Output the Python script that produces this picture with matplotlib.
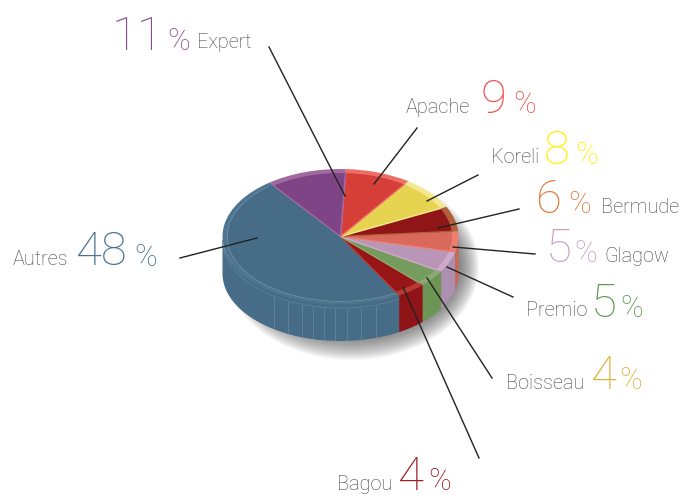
import numpy as np
import matplotlib
matplotlib.use("Agg")
import matplotlib.pyplot as plt
from matplotlib.patches import Ellipse, Polygon
from matplotlib.transforms import Affine2D

names = ["Autres", "Bagou", "Boisseau", "Premio", "Glagow", "Bermude", "Koreli", "Apache", "Expert"]
shares = [48, 4, 4, 5, 5, 6, 8, 9, 11]
main_col = ["#466c87", "#971516", "#759c5c", "#b995b8", "#d9695a", "#8f1516", "#e6d450", "#d63f38", "#7f4485"]
rim_col = ["#4e7590", "#b83a30", "#8aaa72", "#cfa9c8", "#ec7f70", "#b0603a", "#f3e88e", "#ee6e66", "#a06aa0"]
wall_col = ["#466c87", "#8f1418", "#6d9555", "#ad8fb0", "#cf6650", "#b85a45", "#e6d450", "#d63f38", "#7f4485"]
label_col = ["#4a7190", "#9c1f22", "#dcb13c", "#5f9a50", "#c9a0c4", "#e07a3a", "#fff200", "#f05050", "#8a4d8f"]
text_col = "#444444"

CX, CY, RX, RY, DEPTH = 340.5, 236.5, 118, 67.5, 37
START = 127.0

fig = plt.figure(figsize=(6.83, 4.95), dpi=100)
ax = fig.add_axes([0, 0, 1, 1])

def reset():
    ax.set_aspect("auto")
    ax.set_xlim(0, 683)
    ax.set_ylim(495, 0)
    ax.axis("off")

top = Affine2D().scale(RX, -RY).translate(CX, CY) + ax.transData

# soft shadow
for k in np.linspace(0, 1, 24):
    ax.add_patch(Ellipse((352, 266), 2 * (100 + 27 * k), 2 * (62 + 32 * k), fc="#404040", ec="none",
                         alpha=0.05, zorder=1))

# side walls
edges = START + np.concatenate([[0], np.cumsum(shares)]) * 3.6
for i in range(len(shares)):
    a0, a1 = edges[i], edges[i + 1]
    for shift in (0, 360):
        lo, hi = max(a0, 180 + shift), min(a1, 360 + shift)
        if hi <= lo:
            continue
        t = np.radians(np.linspace(lo, hi, 60))
        x = CX + RX * np.cos(t)
        y = CY - RY * np.sin(t)
        pts = np.r_[np.c_[x, y], np.c_[x, y + DEPTH][::-1]]
        ax.add_patch(Polygon(pts, closed=True, fc=wall_col[i], ec="none", zorder=2))

# thin ribs on the large wall
for xr in [274, 288, 302, 313, 324, 335, 347, 361, 376]:
    u = (xr - CX) / RX
    yy = CY + RY * np.sqrt(1 - u * u)
    ax.plot([xr, xr], [yy + 5, yy + DEPTH - 1], color="#6f90a6", lw=0.4, zorder=3)

# top: rim and inner face drawn from the same shares
rim, _ = ax.pie(shares, colors=rim_col, startangle=START, counterclock=True, radius=1,
                wedgeprops=dict(linewidth=0))
inner, _ = ax.pie(shares, colors=main_col, startangle=START, counterclock=True, radius=0.95,
                  wedgeprops=dict(linewidth=1.0))
reset()
for w, c in zip(rim, rim_col):
    w.set_transform(top); w.set_zorder(4)
for w, c in zip(inner, rim_col):
    w.set_transform(top); w.set_zorder(5); w.set_edgecolor(c)
inner[0].set_edgecolor(main_col[0])

# light arc on the large slice
t = np.radians(np.linspace(edges[0] + 2, edges[1] - 1, 120))
ax.plot(CX + 0.96 * RX * np.cos(t), CY - 0.96 * RY * np.sin(t), color="#7c9ab0", lw=0.4, zorder=6)
t2 = np.radians(np.linspace(180, edges[1], 100))
ax.plot(CX + RX * np.cos(t2), CY + 4 - RY * np.sin(t2), color="#5f82a0", lw=0.5, zorder=3)

# leader lines
leaders = {
    "Autres": ((180, 258), (257, 238)), "Bagou": ((479, 458), (403, 287)),
    "Boisseau": ((492, 378), (427, 278)), "Premio": ((513, 297), (447, 267)),
    "Glagow": ((535, 254), (453, 247)), "Bermude": ((519, 209), (438, 228)),
    "Koreli": ((478, 175), (427, 201)), "Apache": ((417, 128), (374, 184)),
    "Expert": ((269, 47), (345, 196)),
}
for n, (a, b) in leaders.items():
    ax.plot([a[0], b[0]], [a[1], b[1]], color="#222222", lw=1.0, zorder=8)

FONT = dict(family="Roboto", weight="light")
layout = {
    "Autres": (13, 265, 75, 265, 134, 266),
    "Bagou": (337, 490, 397, 490, 428, 490),
    "Boisseau": (506, 389, 590, 389, 619, 389),
    "Premio": (526, 316, 591, 317, 620, 317),
    "Glagow": (604, 262, 546, 262, 574, 262),
    "Bermude": (601, 213, 536, 213, 568, 213),
    "Koreli": (491, 163, 544, 164, 575, 164),
    "Apache": (406, 113, 481, 113, 513, 113),
    "Expert": (197, 48, 112, 50, 167, 50),
}
for n, c, s in zip(names, label_col, shares):
    nx, ny, dx, dy, px, py = layout[n]
    ax.text(nx, ny, n, color=text_col, fontsize=14.3, ha="left", va="baseline", zorder=9, **FONT)
    ax.text(dx, dy, str(s), color=c, fontsize=34, ha="left", va="baseline", zorder=9, **FONT)
    ax.text(px, py, "%", color=c, fontsize=22, ha="left", va="baseline", zorder=9, **FONT)

fig.savefig("out.png", dpi=100)
